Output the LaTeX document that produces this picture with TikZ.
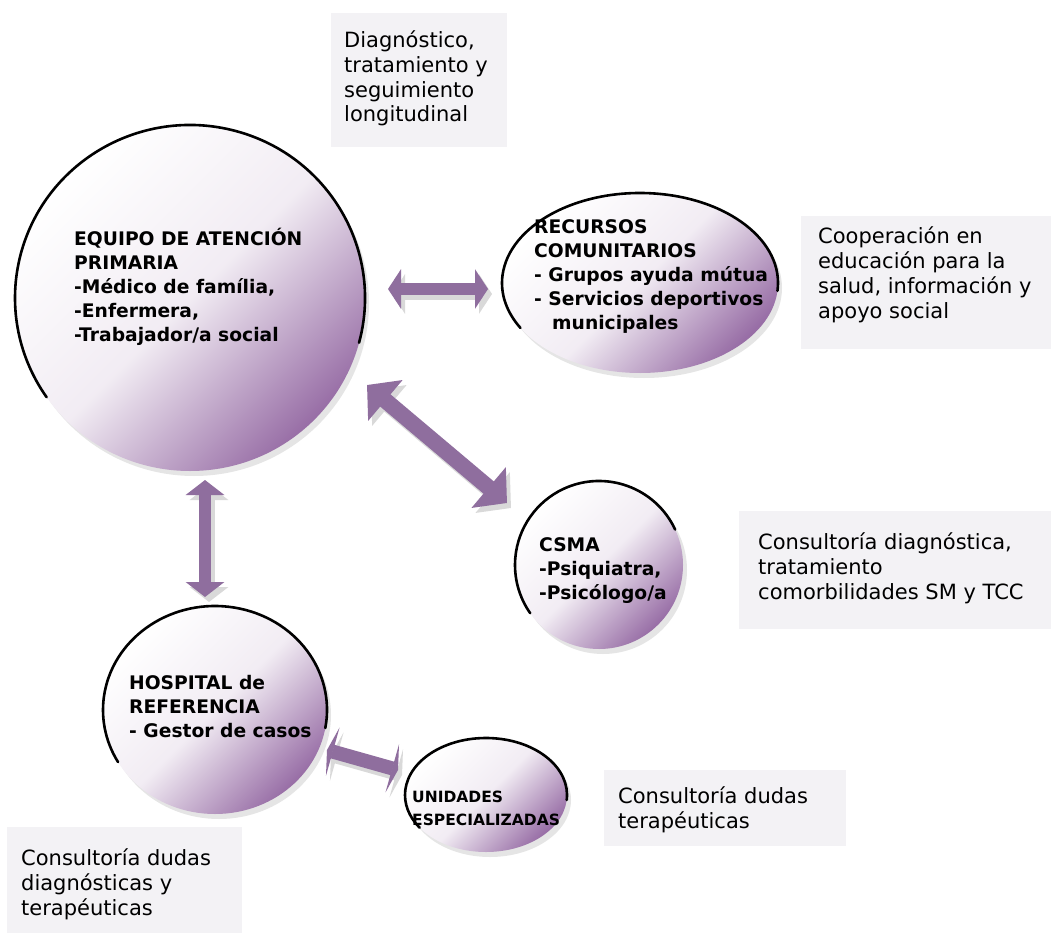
\documentclass[tikz,border=0pt]{standalone}
\usepackage{fontspec}
\setmainfont{DejaVu Sans}
\usetikzlibrary{arrows.meta,shapes.geometric,shadows}
\definecolor{bubblepurple}{RGB}{152,110,166}
\definecolor{arrowpurple}{RGB}{143,110,158}
\definecolor{boxgray}{RGB}{243,242,245}
\tikzset{
  bubble/.style={ellipse, inner sep=0pt, outer sep=0pt,
    top color=white, bottom color=bubblepurple, middle color=bubblepurple!13,
    shading angle=45,
    drop shadow={opacity=0.2, shadow xshift=4pt, shadow yshift=-5pt}},
  rim/.style={draw=black, line width=2.6pt, line cap=round},
  infobox/.style={rectangle, fill=boxgray, inner sep=0pt, anchor=north west},
  % base anchor of a multi-line node sits on its last line
  bubbletext/.style={anchor=base west, align=left, inner sep=0pt,
    font=\fontsize{18.7}{24}\selectfont\bfseries},
  infotext/.style={anchor=base west, align=left, inner sep=0pt,
    font=\fontsize{21}{24.7}\selectfont},
  link/.style n args={3}{draw=arrowpurple, line width=#1,
    arrows={Triangle[length=#2,width=#3]-Triangle[length=#2,width=#3]}}
}
\def\rimarc(#1)(#2:#3:#4:#5){\draw[rim] ([shift={(#2:#4 and #5)}]#1) arc[start angle=#2, end angle=#3, x radius=#4, y radius=#5];}
\def\linkarrow[#1](#2)(#3){%
  \draw[link=#1, draw=black!15, transform canvas={shift={(4pt,-5pt)}}] (#2) -- (#3);
  \draw[link=#1] (#2) -- (#3);}

\begin{document}
\begin{tikzpicture}[x=1pt, y=-1pt]
		%%%%% START %%%%%
		\fill[white] (0,0) rectangle (1051,933);
		\useasboundingbox (0,0) rectangle (1051,933);
		
		% grey boxes
		\node[infobox, minimum width=176pt, minimum height=134pt] (diagbox) at (331,13) {};
		\node[infobox, minimum width=250pt, minimum height=133pt] (coopbox) at (801,216) {};
		\node[infobox, minimum width=312pt, minimum height=118pt] (csmabox) at (739,511) {};
		\node[infobox, minimum width=242pt, minimum height=76pt] (unibox) at (604,770) {};
		\node[infobox, minimum width=235pt, minimum height=106pt] (hospbox) at (7,827) {};
		
		\node[infotext] (diagtext) at (344,122) {Diagnóstico,\\tratamiento y\\seguimiento\\longitudinal};
		\node[infotext] (cooptext) at (818,318) {Cooperación en\\educación para la\\salud, información y\\apoyo social};
		\node[infotext] (csmainfo) at (758,599) {Consultoría diagnóstica,\\tratamiento\\comorbilidades SM y TCC};
		\node[infotext] (uniinfo) at (618,828) {Consultoría dudas\\terapéuticas};
		\node[infotext] (hospinfo) at (21,915) {Consultoría dudas\\diagnósticas y\\terapéuticas};
		
		% arrows
		\coordinate (eap-rec-a) at (388,289);
		\coordinate (eap-rec-b) at (488,289);
		\coordinate (eap-csma-a) at (367,385);
		\coordinate (eap-csma-b) at (507,503);
		\coordinate (eap-hosp-a) at (205,480);
		\coordinate (eap-hosp-b) at (205,597);
		\coordinate (hosp-uni-a) at (327,750);
		\coordinate (hosp-uni-b) at (398,770);
		
		\linkarrow[{12pt}{13pt}{39pt}](eap-rec-a)(eap-rec-b)
		\linkarrow[{16pt}{24pt}{52pt}](eap-csma-a)(eap-csma-b)
		\linkarrow[{12pt}{15pt}{38pt}](eap-hosp-a)(eap-hosp-b)
		\linkarrow[{14pt}{6pt}{50pt}](hosp-uni-a)(hosp-uni-b)
		
		% bubbles
		\node[bubble, minimum width=350pt, minimum height=346pt] (eap) at (190,298) {};
		\node[bubble, minimum width=276pt, minimum height=180pt] (rec) at (640,283) {};
		\node[bubble, minimum width=168pt, minimum height=168pt] (csma) at (599,565) {};
		\node[bubble, minimum width=224pt, minimum height=208pt] (hosp) at (215,710) {};
		\node[bubble, minimum width=162pt, minimum height=114pt] (uni) at (486,795) {};
		
		\rimarc(eap.center)(-15:215:175pt:173pt)
		\rimarc(rec.center)(-5:210:138pt:90pt)
		\rimarc(csma.center)(25:215:84pt:84pt)
		\rimarc(hosp.center)(-10:210:112pt:104pt)
		\rimarc(uni.center)(-5:215:81pt:57pt)
		
		\node[bubbletext] (eaptext) at (74,341) {EQUIPO DE ATENCIÓN\\PRIMARIA\\-Médico de família,\\-Enfermera,\\-Trabajador/a social};
		\node[bubbletext] (rectext) at (534,329) {RECURSOS\\COMUNITARIOS\\- Grupos ayuda mútua\\- Servicios deportivos\\\hspace*{18pt}municipales};
		\node[bubbletext] (csmatext) at (539,599) {CSMA\\-Psiquiatra,\\-Psicólogo/a};
		\node[bubbletext] (hosptext) at (129,737) {HOSPITAL de\\REFERENCIA\\- Gestor de casos};
		\node[bubbletext, font=\fontsize{15.5}{23}\selectfont\bfseries] (unitext) at (412,825) {UNIDADES\\ESPECIALIZADAS};
		
		%%%%% END %%%%%
\end{tikzpicture}
\end{document}
